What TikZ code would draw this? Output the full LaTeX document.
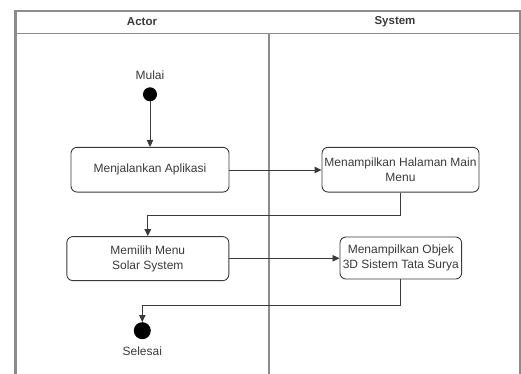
\documentclass[tikz,border=0pt]{standalone}
\usepackage{fontspec}
\setmainfont{Liberation Sans}
\usetikzlibrary{arrows.meta}
\definecolor{lanegray}{HTML}{8C8C8C}
\definecolor{inkgray}{HTML}{3A3A3A}
\begin{document}
\begin{tikzpicture}[x=1pt,y=-1pt,
  lane/.style={draw=lanegray, line width=2.2pt},
  lanethin/.style={draw=lanegray, line width=1.4pt},
  header/.style={font=\fontsize{11.5}{13}\selectfont\bfseries, text=inkgray},
  activity/.style={draw=inkgray, line width=0.9pt, rounded corners=6pt,
    align=center, inner sep=0pt, text=inkgray,
    font=\fontsize{12}{15}\selectfont},
  label/.style={text=inkgray, font=\fontsize{12}{14}\selectfont},
  flow/.style={draw=inkgray, line width=0.9pt, -{Triangle[length=7pt,width=6.5pt]}},
  startdot/.style={circle, fill=black, inner sep=0pt, minimum size=14pt},
  enddot/.style={circle, fill=black, inner sep=0pt, minimum size=17pt}]
\useasboundingbox (0,0) rectangle (521,374);

% swimlane frame
\draw[lane] (15.5,374) -- (15.5,11) -- (520,11) -- (520,374);
\draw[lanethin] (15.5,33.5) -- (520,33.5);
\draw[lanethin] (269,33.5) -- (269,374);
\node[header] (hActor) at (142,22) {Actor};
\node[header] (hSystem) at (395,22) {System};

% start / end states
\node[startdot] (start) at (150,94.3) {};
\node[label] (mulai) at (150,75) {Mulai};
\node[enddot] (finish) at (142.3,330.7) {};
\node[label] (selesai) at (142.3,351) {Selesai};

% activities
\node[activity, minimum width=158pt, minimum height=44.7pt] (run) at (150,169.7) {Menjalankan Aplikasi};
\node[activity, minimum width=157pt, minimum height=44.7pt] (mainmenu) at (400.5,169.7) {Menampilkan Halaman Main\\Menu};
\node[activity, minimum width=162pt, minimum height=44pt] (choose) at (147.8,258.6) {Memilih Menu\\Solar System};
\node[activity, minimum width=121.7pt, minimum height=42pt] (show3d) at (400.8,258) {Menampilkan Objek\\3D Sistem Tata Surya};

% control flow
\draw[flow] (start) -- (run);
\draw[flow] (run.east |- 0,170) -- (mainmenu.west |- 0,170);
\draw[flow] (mainmenu.south) -- ++(0,23) coordinate (b1) -| (choose.north);
\draw[flow] (choose.east |- 0,258.3) -- (show3d.west |- 0,258.3);
\draw[flow] (show3d.south) -- ++(0,26) coordinate (b2) -| (finish.north);
\end{tikzpicture}
\end{document}
